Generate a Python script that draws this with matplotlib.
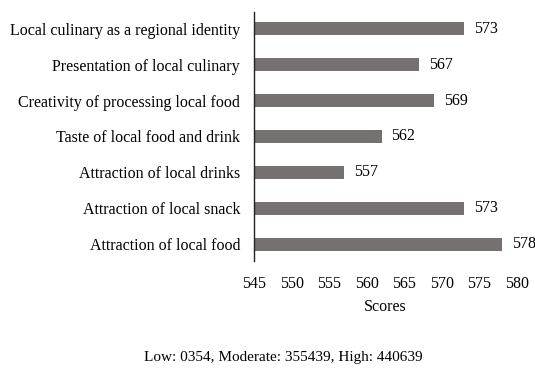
import matplotlib
matplotlib.use("Agg")
import matplotlib.pyplot as plt

categories = [
    "Attraction of local food",
    "Attraction of local snack",
    "Attraction of local drinks",
    "Taste of local food and drink",
    "Creativity of processing local food",
    "Presentation of local culinary",
    "Local culinary as a regional identity",
]
scores = [578, 573, 557, 562, 569, 567, 573]
xticks = [545, 550, 555, 560, 565, 570, 575, 580]

plt.rcParams['font.family'] = ['Liberation Serif', 'DejaVu Serif']
FS = 11.5

fig = plt.figure(figsize=(5.35, 3.69), dpi=100)
ax = fig.add_axes([254/535, 1-261/369, (517-254)/535, (261-12)/369])

ypos = list(range(len(categories)))
ax.barh(ypos, [s - 545 for s in scores], left=545, height=0.36, color='#767171')
for y, s in zip(ypos, scores):
    ax.text(s + 1.3, y, str(s), va='center', ha='left', fontsize=FS)

ax.set_xlim(545, 580)
ax.set_ylim(-0.47, 6.47)
ax.set_xticks(xticks)
ax.set_xticklabels([str(t) for t in xticks], fontsize=FS)
ax.set_yticks(ypos)
ax.set_yticklabels(categories, fontsize=FS)
ax.tick_params(axis='both', length=0)
ax.tick_params(axis='y', pad=10)
ax.tick_params(axis='x', pad=11)
for sp in ['top', 'right', 'bottom']:
    ax.spines[sp].set_visible(False)
ax.spines['left'].set_linewidth(1.0)
ax.spines['left'].set_color('#222222')
ax.set_xlabel('Scores', fontsize=FS, labelpad=5)

fig.text(283/535, 1-357/369, 'Low: 0354, Moderate: 355439, High: 440639',
         ha='center', va='center', fontsize=11)

fig.savefig('out.png', dpi=100)
